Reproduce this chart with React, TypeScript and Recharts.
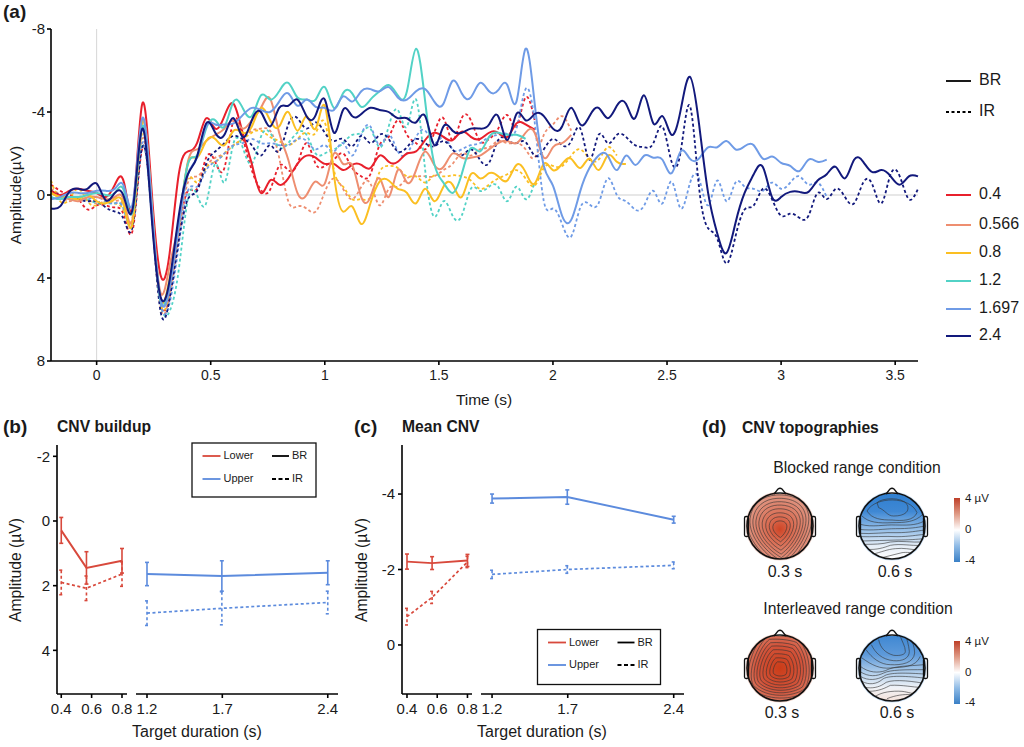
import React from 'react';
import { LineChart, Line, XAxis, YAxis, ReferenceLine, ErrorBar } from 'recharts';

const FONT = '"Liberation Sans", Arial, sans-serif';

// panel (a): ERP waveforms, sampled every 40 ms
const times = [
  -0.2, -0.16, -0.12, -0.08, -0.04, 0,
  0.04, 0.08, 0.12, 0.16, 0.2, 0.24, 0.28, 0.32, 0.36, 0.4, 0.44, 0.48, 0.52, 0.56, 0.6, 0.64, 0.68, 0.72, 0.76, 0.8, 0.84, 0.88, 0.92, 0.96, 1,
  1.04, 1.08, 1.12, 1.16, 1.2, 1.24, 1.28, 1.32, 1.36, 1.4, 1.44, 1.48, 1.52, 1.56, 1.6, 1.64, 1.68, 1.72, 1.76, 1.8, 1.84, 1.88, 1.92, 1.96, 2,
  2.04, 2.08, 2.12, 2.16, 2.2, 2.24, 2.28, 2.32, 2.36, 2.4, 2.44, 2.48, 2.52, 2.56, 2.6, 2.64, 2.68, 2.72, 2.76, 2.8, 2.84, 2.88, 2.92, 2.96, 3,
  3.04, 3.08, 3.12, 3.16, 3.2, 3.24, 3.28, 3.32, 3.36, 3.4, 3.44, 3.48, 3.52, 3.56, 3.6,
];

const br04 = [
  -0.2, 0, -0.2, -0.3, -0.2, -0.1,
  0.1, -0.5, -0.6, 0.5, -4.4, -0.4, 3.85, 2.8, -1, -2.1, -2.5, -3.7, -3.2, -3.8, -4.4, -3, -1.5, -0.1, -0.7, -0.5, -0.8, -1.5, -1.9, -1.8, -1.5,
  -1.5, -1.2, -1.45, -1.45, -1.3, -1.9, -1.6, -1.6, -2, -2.1, -2.65, -3, -2.8, -2.65, -3.05, -2.8, -2.7, -3, -3, -2.8, -3.45, -3.4, -3.15,
];
const ir04 = [
  -0.5, -0.2, 0, 0.2, 0.7, 0.5,
  0.5, 0.6, 1, 1.6, -2.25, 0.5, 5, 4.9, 1.8, -0.2, -0.3, -1.8, -1.6, -1.3, -3.6, -2.8, -1.2, -0.25, -0.25, -1.4, -1.2, -1.5, -2.5, -1.5, -1.4,
  -1.7, -2, -1.3, -0.9, -1, -2.4, -2.8, -3.6, -2.9, -2.5, -2.2, -3, -3.7, -2.65, -3.7, -3.6, -2.6, -2.7, -3.2, -3.85, -3.3, -4.7, -3.6,
];
const br0566 = [
  -0.1, 0.1, 0.2, 0.3, 0.1, 0.1,
  0.2, 0.1, 0.3, 1, -3.6, 0.3, 4.7, 3.4, 1.3, -1.6, -2.2, -2.6, -2.9, -3.2, -3.6, -3.2, -3.6, -4.2, -4.65, -3, -1.7, -0.1, 0, -0.65, -0.55,
  -2, -1.5, -1.45, 0.1, 0.1, -0.8, 0.1, -1.2, -0.6, -1.2, -2.1, -1.45, -1.35, -2, -1.8, -1.8, -1.9, -2.2, -2.5, -2.6, -2.5, -3, -3, -1.8, -2.3,
  -2.5, -2.9,
];
const ir0566 = [
  -0.3, 0, 0.3, 0.1, 0.2, 0.4,
  0.3, 0.3, 0.6, 1.2, -2.7, 0.7, 5.4, 4.8, 1.8, -0.6, -0.9, -1.4, -1.8, -2, -2.4, -2.7, -3.1, -3.2, -3.1, -1.8, 0.3, 0.55, 0.65, 0.8, -0.15,
  -0.8, -0.3, 0.2, -0.4, -0.55, 0.5, -0.3, -0.4, -0.8, -0.9, -0.9, -0.9, -1.2, -1.5, -2, -1.9, -2.2, -2.3, -2.6, -2.5, -2.5, -2.2, -1.8, -2.9, -3.4,
  -3.8, -3.1,
];
const br08 = [
  -0.1, 0.1, 0.1, 0.2, 0, 0.3,
  0.4, 0.2, 0.5, 1.2, -3.5, 0.2, 5, 4, 1.5, -1.5, -1.8, -2.6, -2.7, -2.4, -3.1, -3, -3.3, -4.2, -3.6, -3.3, -4, -3.1, -3.8, -3.2, -4.3,
  -1, 0.8, 0.55, 1.4, 0.4, -0.65, -0.7, -0.3, -0.1, 0.4, -0.3, 0.3, -0.4, -0.5, 0.1, -1, -0.8, -1.05, -0.9, -0.7, -1.45, -1.1, -0.55, -1.5, -1.2,
  -1.5, -1.75, -1.3, -1.75, -1.2, -1.9, -1.6, -1.5,
];
const ir08 = [
  -0.7, 0.3, 0.2, -0.3, 0.3, 0.5,
  0.3, 0.4, 0.8, 0.9, -3, 0.4, 5.2, 4.6, 1.5, -0.8, -0.6, -1.3, -1.6, -2, -2.4, -2.7, -3, -3.1, -2.8, -2.6, -2.4, -2.7, -3, -3, -3.5,
  -1.2, -0.4, 0.2, 0.2, 0.1, -1.1, -1.4, -1.3, -0.9, -0.9, -0.6, -0.95, -0.9, -0.95, -0.9, -0.7, -0.3, -0.5, -0.8, -1, -1.2, -0.8, -0.45, -1.3, -1.4,
  -1.4, -1.9, -2.2, -1.75, -1.7, -2.3, -1.9,
];
const br12 = [
  0.1, 0.2, 0.1, 0.1, 0, -0.1,
  0, -0.1, -0.2, 0.7, -3.3, 0.4, 5.1, 4.2, 1.4, -1.5, -1.9, -3.2, -3.6, -3.3, -4.5, -4.2, -3.8, -4.8, -4.6, -5, -5.4, -4.7, -4.6, -4.6, -5.2,
  -4.2, -4.9, -4.9, -4.25, -4.6, -5, -5.3, -4.8, -5, -7.05, -4.5, -1.5, -0.6, -0.1, -1, -2.25, -2.1, -2.8, -3, -2.9, -2.9, -2.7,
];
const ir12 = [
  0.2, 0, 0.2, 0.2, 0.2, 0.4,
  0.4, 0.4, 0.7, 1.3, -2.4, 0.8, 5.2, 5.6, 3.6, 0.2, 0, 0.4, -1.5, -0.6, -2.5, -2.3, -1.5, -2.8, -3, -2.3, -2.5, -3, -2.9, -2, -2,
  -2.2, -2.5, -2.9, -3, -3.2, -2.3, -3.3, -4.1, -3.3, -4.6, -1.2, 1.05, 0.3, 1, 1, -0.3, -0.2, -0.4, -0.4, 0.3, -0.4, 0.2, -0.6,
];
const br1697 = [
  0.2, 0.1, -0.1, -0.1, -0.1, -0.2,
  -0.2, -0.3, -0.4, 0.3, -3.7, 0.2, 5, 4.5, 1.5, -1, -1.8, -3.3, -3.4, -3.4, -3.45, -3.85, -4.2, -4.1, -4, -4.5, -4.9, -4.3, -4.6, -4.25, -4.2,
  -4.1, -4.75, -4.5, -5, -5.1, -5, -5.2, -4.7, -4.6, -5, -5.1, -4.5, -4.4, -5.5, -4.9, -4.7, -5.4, -5, -5.05, -5.3, -4.5, -7.05, -4.4, -1.4, -0.45,
  1, 1.2, -0.2, -1.3, -1.9, -1.9, -1.2, -1.9, -1.45, -1.9, -1.8, -1.7, -1.05, -2.1, -1.75, -1.75, -2.3, -2.3, -2.6, -2.2, -2.35, -2.4, -1.75, -1.85, -1.55,
  -1.4, -1.15, -1.7, -1.6, -1.7,
];
const ir1697 = [
  0.1, 0.2, 0.1, 0.2, 0.2, 0.1,
  0.3, 0.4, 0.7, 1.2, -2.5, 0.7, 5.2, 5.2, 2.4, -0.2, -0.4, -1.2, -1.6, -2, -2.4, -2.5, -2.7, -2.5, -2.5, -2.4, -2.4, -2.7, -2.6, -2.2, -2.4,
  -2.1, -2.5, -1.9, -2.9, -3.3, -2.4, -2.9, -2.1, -2, -2.8, -3.1, -2.5, -2.8, -2.2, -2.2, -2.4, -2.5, -2.8, -2.9, -2.95, -3.2, -5.1, -3.5, 0.3, 0.65,
  1.4, 2, 0.6, 0.45, 0.4, -0.8, 0, 0.3, 0.7, 0.5, -0.2, 0.4, -0.65, 0.65, -0.55, -0.8, 0.5, -0.7, 0.3, -0.6, -0.4, -0.3, -0.2, -0.6, -0.3,
  -0.6, -0.9, -0.5, -0.6, 0.1,
];
const br24 = [
  0.65, 0.55, -0.15, -0.3, -0.3, -0.55,
  0.25, -0.1, 0.1, 0.55, -3.2, 0.9, 4.9, 4.1, 1, -1, -1.85, -3.45, -3, -2.9, -3.7, -2.8, -3.6, -4, -3.3, -4.2, -4.3, -4.6, -3.8, -3.85, -4.6,
  -3, -4.1, -3.8, -3.9, -4.2, -4.1, -4, -3.7, -3.7, -3.5, -3.8, -2.4, -3.3, -3.1, -3, -3.2, -3.2, -3.4, -3.8, -2.65, -3.9, -3.6, -3.9, -3.8, -3.2,
  -3.3, -4.2, -3.4, -3.8, -4.2, -3.7, -4.3, -4.4, -3.7, -4.8, -3.45, -3.8, -2.9, -4.1, -5.7, -3.45, -0.1, 1.85, 2.8, 1.35, -0.1, -1, -1.35, 0.1, 0.1,
  -0.15, -0.15, -0.15, -0.7, -1, -1.35, -0.8, -1.7, -1.6, -1.1, -1.2, -0.9, -0.5, -0.9, -0.9,
];
const ir24 = [
  -0.2, 0, 0.1, 0.2, 0.3, 0.3,
  0.6, 0.8, 1.2, 1.4, -2.3, 0.6, 5.6, 5, 2.2, 0.2, -0.2, -1.5, -2.1, -2.5, -2.85, -2.7, -2.4, -1.9, -2.4, -2.1, -3.4, -3.7, -3.2, -3.5, -3,
  -2.6, -2.7, -2.35, -2.85, -2.5, -2.9, -2.7, -2.1, -2.3, -2.7, -2.5, -2.35, -2.6, -2.2, -1.9, -2.2, -1.7, -1.55, -2.65, -2.65, -2.5, -2.55, -1.9, -2.2, -2.7,
  -2.4, -2.6, -3.2, -1.7, -2.9, -2.5, -2.9, -2.8, -2.4, -2.3, -2.5, -3.3, -1.6, -2.1, -4.3, -0.4, 1.6, 2.1, 3.3, 2, 0.7, 0.5, -0.3, 0.2, 1,
  0.9, 1.1, 1, -0.1, 0.2, -0.3, 0.1, 0.4, -0.6, -0.5, 0.4, -1, -0.9, 0.2, -0.3,
];

const durationLabels = ['0.4', '0.566', '0.8', '1.2', '1.697', '2.4'];
const durationColors = ['#E8202C', '#EE8E70', '#FBBF22', '#52D2C6', '#6F9BE6', '#12197C'];
const brSeries = [br04, br0566, br08, br12, br1697, br24];
const irSeries = [ir04, ir0566, ir08, ir12, ir1697, ir24];

const waveRows = times.map((t, i) => {
  const row: Record<string, number | undefined> = { t };
  durationLabels.forEach((d, k) => {
    row['br' + d] = brSeries[k][i];
    row['ir' + d] = irSeries[k][i];
  });
  return row;
});

// panels (b) and (c)
const lowerDurations = [0.4, 0.566, 0.8];
const upperDurations = [1.2, 1.697, 2.4];

const buildupLowerBR = [0.29, 1.45, 1.23];
const buildupLowerBRErr = [0.4, 0.5, 0.38];
const buildupLowerIR = [1.9, 2.08, 1.64];
const buildupLowerIRErr = [0.38, 0.38, 0.38];
const buildupUpperBR = [1.64, 1.7, 1.6];
const buildupUpperBRErr = [0.36, 0.47, 0.37];
const buildupUpperIR = [2.85, 2.7, 2.52];
const buildupUpperIRErr = [0.38, 0.51, 0.35];

const meanLowerBR = [-2.21, -2.17, -2.24];
const meanLowerBRErr = [0.2, 0.17, 0.16];
const meanLowerIR = [-0.75, -1.26, -2.2];
const meanLowerIRErr = [0.22, 0.16, 0.15];
const meanUpperBR = [-3.88, -3.92, -3.32];
const meanUpperBRErr = [0.12, 0.19, 0.09];
const meanUpperIR = [-1.87, -2, -2.11];
const meanUpperIRErr = [0.11, 0.1, 0.09];

const makeRows = (x: number[], br: number[], brErr: number[], ir: number[], irErr: number[]) =>
  x.map((d, i) => ({ d, br: br[i], brErr: brErr[i], ir: ir[i], irErr: irErr[i] }));

const RED = '#D8493C';
const BLUE = '#5C8BDD';

const axisProps = {
  stroke: '#000',
  tick: { fill: '#1a1a1a', fontSize: 15, fontFamily: FONT },
  tickSize: 4,
  strokeWidth: 1.6,
  interval: 0 as const,
};

function Segment({ left, width, height, margin, rows, domain, ticks, yDomain, yTicks, color, showY }: any) {
  return (
    <div style={{ position: 'absolute', left, top: 430 }}>
      <LineChart width={width} height={height} data={rows} margin={margin} style={{ overflow: 'visible' }}>
        <XAxis dataKey="d" type="number" domain={domain} ticks={ticks} allowDataOverflow height={53} tickMargin={5} {...axisProps} />
        <YAxis
          type="number"
          domain={yDomain}
          ticks={yTicks}
          reversed
          allowDataOverflow
          width={showY ? margin.yw : 0}
          hide={!showY}
          tickMargin={3}
          {...axisProps}
        />
        <Line dataKey="br" type="linear" stroke={color} strokeWidth={1.9} dot={false} isAnimationActive={false}>
          <ErrorBar dataKey="brErr" direction="y" width={2} stroke={color} strokeWidth={1.6} isAnimationActive={false} />
        </Line>
        <Line dataKey="ir" type="linear" stroke={color} strokeWidth={1.7} strokeDasharray="3 2.5" dot={false} isAnimationActive={false}>
          <ErrorBar dataKey="irErr" direction="y" width={2} stroke={color} strokeWidth={1.6} strokeDasharray="3 2.5" isAnimationActive={false} />
        </Line>
      </LineChart>
    </div>
  );
}

const lbl = (x: number, y: number, s: string, size = 14, extra: any = {}) => (
  <text key={s + x + y} x={x} y={y} fontSize={size} fill="#1a1a1a" dominantBaseline="middle" fontFamily={FONT} {...extra}>
    {s}
  </text>
);

function LegendBox({ x, y, w, h, row1, row2 }: any) {
  const lx = x + 10.5;
  const kx = x + 80;
  return (
    <g>
      <rect x={x} y={y} width={w} height={h} fill="#fff" stroke="#111" strokeWidth={1.3} />
      <line x1={lx} x2={lx + 18} y1={row1} y2={row1} stroke={RED} strokeWidth={1.8} />
      <line x1={lx} x2={lx + 18} y1={row2} y2={row2} stroke={BLUE} strokeWidth={1.8} />
      {lbl(lx + 21, row1 + 0.5, 'Lower', 11)}
      {lbl(lx + 21, row2 + 0.5, 'Upper', 11)}
      <line x1={kx} x2={kx + 17} y1={row1} y2={row1} stroke="#000" strokeWidth={1.8} />
      <line x1={kx} x2={kx + 17} y1={row2} y2={row2} stroke="#000" strokeWidth={1.8} strokeDasharray="4 2.5" />
      {lbl(kx + 20, row1 + 0.5, 'BR', 11)}
      {lbl(kx + 20, row2 + 0.5, 'IR', 11)}
    </g>
  );
}

// scalp maps: contour outlines, in units of 1/3 px around each head centre
const blockedWarmRing = 'M-.1,-1 C.3,-1.02 .75,-.9 .85,-.45 C.95,0 .55,.7 .05,1.05 C-.4,.8 -.95,.25 -.9,-.3 C-.85,-.75 -.5,-.98 -.1,-1Z';
const interWarmRing = 'M-.35,-1 C-.1,-1.02 .3,-1 .55,-.9 C.85,-.6 1,.1 .75,.55 C.4,.8 -.4,.85 -.8,.45 C-1,.1 -.7,-.75 -.35,-1Z';
const ringLevels = [0.24, 0.36, 0.48, 0.6, 0.71, 0.81, 0.91, 1.01, 1.12];

const blockedCool = [
  'M-45,-70 C-30,-85 30,-88 45,-65 C55,-45 40,-30 5,-30 C-15,-30 -20,-48 -40,-55 Z',
  'M-75,-45 C-50,-90 55,-90 75,-40 C65,-15 30,-15 0,-18 C-30,-18 -60,-20 -75,-45',
  'M-90,-30 C-70,-10 -40,-8 0,-10 C40,-10 70,-12 92,-35',
  'M-95,-5 C-60,5 -20,-5 10,-3 C40,-3 70,0 97,-15',
  'M-98,10 C-60,15 -20,8 10,8 C50,8 75,5 98,0',
  'M-98,22 C-60,25 -20,18 15,20 C50,20 75,15 98,12',
  'M-95,32 C-60,33 -20,30 15,32 C50,32 75,27 98,25',
  'M-90,45 C-55,45 -20,42 15,42 C50,42 75,40 95,38',
  'M-85,55 C-55,55 -30,55 -5,48 C25,43 60,50 90,48',
  'M-75,70 C-45,72 -25,65 -5,58 C25,52 60,60 85,58',
  'M-60,85 C-30,78 -15,70 10,68 C35,65 55,70 75,72',
  'M-30,95 C-10,90 10,85 30,80 C45,78 60,80 65,82',
];
const interCool = [
  'M-40,-85 C-35,-60 -20,-45 5,-38 C25,-36 40,-40 40,-50 C40,-65 30,-80 25,-95',
  'M-62,-70 C-50,-45 -30,-25 5,-22 C30,-20 52,-28 52,-50 C50,-70 45,-85 42,-95',
  'M-78,-55 C-60,-30 -35,-10 -5,-10 C30,-8 65,-15 68,-45 C68,-65 60,-80 55,-90',
  'M-90,-30 C-60,-8 -35,3 -5,0 C30,-3 70,0 85,-35',
  'M-95,-5 C-70,15 -40,15 -20,8 C10,-8 50,-5 95,-10',
  'M-97,10 C-70,28 -45,25 -25,15 C-5,5 40,5 97,5',
  'M-95,25 C-70,40 -45,35 -25,25 C-10,12 50,15 97,18',
  'M-90,40 C-70,52 -45,48 -30,35 C-15,20 50,25 95,30',
  'M-80,58 C-60,62 -40,58 -25,48 C-10,32 50,38 90,45',
  'M-70,70 C-40,70 -20,60 -5,52 C30,50 65,58 85,58',
  'M-50,85 C-30,72 0,68 30,70 C50,72 65,80 70,75',
  'M-15,92 C10,82 35,78 60,80',
];

function Head({ cx, cy, id, ring, lines, oy = 0 }: any) {
  const r = 33;
  return (
    <g>
      <clipPath id={id}>
        <circle cx={cx} cy={cy} r={r} />
      </clipPath>
      <circle cx={cx} cy={cy} r={r + 1.6} fill={ring ? '#E8B8A8' : '#A8CCEE'} opacity={0.6} />
      <circle cx={cx} cy={cy} r={r} fill={`url(#${id}-f)`} />
      <g clipPath={`url(#${id})`} fill="none" stroke="#333" strokeWidth={0.6}>
        {ring &&
          ringLevels.map((s) => (
            <path
              key={s}
              d={ring}
              transform={`translate(${cx},${cy + oy}) scale(${s * r},${s * r * 1.02})`}
              vectorEffect="non-scaling-stroke"
            />
          ))}
        {lines &&
          lines.map((d: string) => (
            <path key={d} d={d} transform={`translate(${cx},${cy}) scale(${1 / 3})`} vectorEffect="non-scaling-stroke" />
          ))}
      </g>
      <path d={`M${cx - 6},${cy - r + 1} L${cx - 2},${cy - r - 4} Q${cx},${cy - r - 5.5} ${cx + 2},${cy - r - 4} L${cx + 6},${cy - r + 1}`} fill="#fff" stroke="#111" strokeWidth={1.3} />
      <rect x={cx - r - 2.5} y={cy - 9.5} width={4} height={20} rx={1.5} fill="none" stroke="#111" strokeWidth={1.3} />
      <rect x={cx + r - 1.5} y={cy - 9.5} width={4} height={20} rx={1.5} fill="none" stroke="#111" strokeWidth={1.3} />
      <circle cx={cx} cy={cy} r={r} fill="none" stroke="#111" strokeWidth={1.6} />
    </g>
  );
}

function Overlay() {
  return (
    <svg width={1024} height={747} style={{ position: 'absolute', left: 0, top: 0, pointerEvents: 'none' }}>
      <defs>
        <radialGradient id="h1-f" cx="0.5" cy="0.55" r="0.6">
          <stop offset="0" stopColor="#CF4526" />
          <stop offset="0.3" stopColor="#D86A50" />
          <stop offset="1" stopColor="#E2A18F" />
        </radialGradient>
        <radialGradient id="h3-f" cx="0.5" cy="0.5" r="0.62">
          <stop offset="0" stopColor="#CB3C18" />
          <stop offset="0.55" stopColor="#D2533A" />
          <stop offset="1" stopColor="#DE8770" />
        </radialGradient>
        <linearGradient id="h2-f" x1="0" y1="0" x2="0" y2="1">
          <stop offset="0" stopColor="#2F7FD0" />
          <stop offset="0.28" stopColor="#3F88D4" />
          <stop offset="0.55" stopColor="#94BEE8" />
          <stop offset="0.8" stopColor="#E6EEF7" />
          <stop offset="1" stopColor="#FFFFFF" />
        </linearGradient>
        <linearGradient id="h4-f" x1="0" y1="0" x2="0" y2="1">
          <stop offset="0" stopColor="#3E87D2" />
          <stop offset="0.3" stopColor="#5E9ADA" />
          <stop offset="0.58" stopColor="#B4D0EC" />
          <stop offset="0.8" stopColor="#F0F3F7" />
          <stop offset="1" stopColor="#F6E2DA" />
        </linearGradient>
        <linearGradient id="cbar" x1="0" y1="0" x2="0" y2="1">
          <stop offset="0" stopColor="#BE3F28" />
          <stop offset="0.25" stopColor="#DF9A85" />
          <stop offset="0.5" stopColor="#FFFFFF" />
          <stop offset="0.75" stopColor="#8FBBE6" />
          <stop offset="1" stopColor="#3A80C6" />
        </linearGradient>
      </defs>

      {lbl(3, 13, '(a)', 19, { fontWeight: 'bold' })}
      {lbl(3, 428, '(b)', 19, { fontWeight: 'bold' })}
      {lbl(354, 428, '(c)', 19, { fontWeight: 'bold' })}
      {lbl(702, 428, '(d)', 19, { fontWeight: 'bold' })}
      {lbl(57, 428, 'CNV buildup', 15.7, { fontWeight: 'bold' })}
      {lbl(402, 428, 'Mean CNV', 15.7, { fontWeight: 'bold' })}
      {lbl(742, 429, 'CNV topographies', 15.7, { fontWeight: 'bold' })}

      {lbl(17, 195, 'Amplitude(µV)', 15.5, { textAnchor: 'middle', transform: 'rotate(-90 17 195)' })}
      {lbl(484, 401, 'Time (s)', 15.5, { textAnchor: 'middle' })}
      {lbl(17, 570, 'Amplitude (µV)', 15.7, { textAnchor: 'middle', transform: 'rotate(-90 17 570)' })}
      {lbl(363, 570, 'Amplitude (µV)', 15.7, { textAnchor: 'middle', transform: 'rotate(-90 363 570)' })}
      {lbl(197, 733, 'Target duration (s)', 16, { textAnchor: 'middle' })}
      {lbl(542, 733, 'Target duration (s)', 16, { textAnchor: 'middle' })}

      <line x1={946} x2={971} y1={81} y2={81} stroke="#000" strokeWidth={1.8} />
      <line x1={946} x2={971} y1={112} y2={112} stroke="#000" strokeWidth={1.8} strokeDasharray="3 2.5" />
      {lbl(979, 81, 'BR', 16)}
      {lbl(979, 112, 'IR', 16)}
      {durationLabels.map((d, k) => {
        const y = [195, 225, 253, 281, 309, 336][k];
        return (
          <g key={d}>
            <line x1={946} x2={971} y1={y} y2={y} stroke={durationColors[k]} strokeWidth={2} />
            {lbl(979, y, d, 16)}
          </g>
        );
      })}

      <LegendBox x={192} y={443} w={124} h={54} row1={456} row2={479} />
      <LegendBox x={537.5} y={629.5} w={123} h={55} row1={642.5} row2={665} />

      {lbl(857, 469, 'Blocked range condition', 15.7, { textAnchor: 'middle' })}
      {lbl(858, 610, 'Interleaved range condition', 15.7, { textAnchor: 'middle' })}

      <Head id="h1" cx={780} cy={526} ring={blockedWarmRing} oy={3} />
      <Head id="h2" cx={892} cy={526} lines={blockedCool} />
      <Head id="h3" cx={780} cy={668} ring={interWarmRing} oy={2} />
      <Head id="h4" cx={892} cy={668} lines={interCool} />

      {lbl(785, 573, '0.3 s', 16, { textAnchor: 'middle' })}
      {lbl(895, 573, '0.6 s', 16, { textAnchor: 'middle' })}
      {lbl(782, 714, '0.3 s', 16, { textAnchor: 'middle' })}
      {lbl(897, 714, '0.6 s', 16, { textAnchor: 'middle' })}

      <rect x={954} y={498} width={6} height={64} fill="url(#cbar)" />
      {lbl(965, 499, '4 µV', 11.5)}
      {lbl(965, 530, '0', 11.5)}
      {lbl(965, 561, '-4', 11.5)}
      <rect x={954} y={641} width={6} height={63} fill="url(#cbar)" />
      {lbl(965, 642, '4 µV', 11.5)}
      {lbl(965, 673, '0', 11.5)}
      {lbl(965, 703, '-4', 11.5)}
    </svg>
  );
}

export default function App() {
  return (
    <div style={{ position: 'absolute', left: 0, top: 0, width: 1024, height: 747, background: '#fff', fontFamily: FONT, overflow: 'hidden' }}>
      <div style={{ position: 'absolute', left: 0, top: 0 }}>
        <LineChart width={1024} height={400} data={waveRows} margin={{ top: 29, right: 106, bottom: 0, left: 0 }} style={{ overflow: 'visible' }}>
          <XAxis dataKey="t" type="number" domain={[-0.2, 3.6]} ticks={[0, 0.5, 1, 1.5, 2, 2.5, 3, 3.5]} height={39} tickMargin={5} {...axisProps} tick={{ ...axisProps.tick, fontSize: 14 }} />
          <YAxis type="number" domain={[-8, 8]} ticks={[-8, -4, 0, 4, 8]} reversed width={51} tickMargin={2} {...axisProps} />
          <ReferenceLine x={0} stroke="#d6d6d6" strokeWidth={1} />
          <ReferenceLine y={0} stroke="#cfcfcf" strokeWidth={1} />
          {durationLabels.map((d, k) => (
            <Line key={'ir' + d} dataKey={'ir' + d} type="natural" stroke={durationColors[k]} strokeWidth={1.8} strokeDasharray="3 2.5" dot={false} isAnimationActive={false} connectNulls={false} />
          ))}
          {durationLabels.map((d, k) => (
            <Line key={'br' + d} dataKey={'br' + d} type="natural" stroke={durationColors[k]} strokeWidth={2} dot={false} isAnimationActive={false} connectNulls={false} />
          ))}
        </LineChart>
      </div>

      <Segment left={0} width={150} height={317} margin={{ top: 15, right: 23, bottom: 0, left: 0, yw: 57 }} rows={makeRows(lowerDurations, buildupLowerBR, buildupLowerBRErr, buildupLowerIR, buildupLowerIRErr)} domain={[0.372, 0.833]} ticks={[0.4, 0.6, 0.8]} yDomain={[-2.35, 5.35]} yTicks={[-2, 0, 2, 4]} color={RED} showY />
      <Segment left={100} width={250} height={317} margin={{ top: 15, right: 12, bottom: 0, left: 36 }} rows={makeRows(upperDurations, buildupUpperBR, buildupUpperBRErr, buildupUpperIR, buildupUpperIRErr)} domain={[1.127, 2.468]} ticks={[1.2, 1.7, 2.4]} yDomain={[-2.35, 5.35]} yTicks={[-2, 0, 2, 4]} color={BLUE} />

      <Segment left={350} width={150} height={317} margin={{ top: 15, right: 28, bottom: 0, left: 0, yw: 52 }} rows={makeRows(lowerDurations, meanLowerBR, meanLowerBRErr, meanLowerIR, meanLowerIRErr)} domain={[0.367, 0.83]} ticks={[0.4, 0.6, 0.8]} yDomain={[-5.3, 1.3]} yTicks={[-4, -2, 0]} color={RED} showY />
      <Segment left={450} width={250} height={317} margin={{ top: 15, right: 16, bottom: 0, left: 31 }} rows={makeRows(upperDurations, meanUpperBR, meanUpperBRErr, meanUpperIR, meanUpperIRErr)} domain={[1.127, 2.468]} ticks={[1.2, 1.7, 2.4]} yDomain={[-5.3, 1.3]} yTicks={[-4, -2, 0]} color={BLUE} />

      <Overlay />
    </div>
  );
}
